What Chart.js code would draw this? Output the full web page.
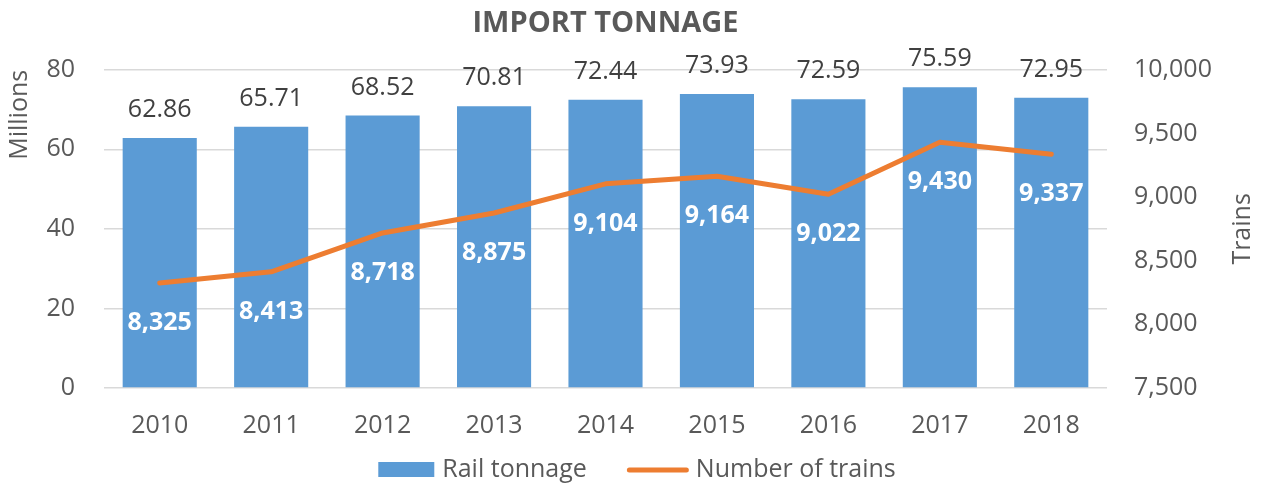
<!DOCTYPE html>
<html>
<head>
<meta charset="utf-8">
<script src="https://cdn.jsdelivr.net/npm/chart.js@4.4.1/dist/chart.umd.min.js"></script>
<style>
  html, body { margin: 0; padding: 0; background: #ffffff; }
  #wrap { width: 1266px; height: 486px; position: relative; }
</style>
</head>
<body>
<div id="wrap"><canvas id="c" width="1266" height="486"></canvas></div>
<script>
const years = ['2010', '2011', '2012', '2013', '2014', '2015', '2016', '2017', '2018'];
const railTonnage = [62.86, 65.71, 68.52, 70.81, 72.44, 73.93, 72.59, 75.59, 72.95];
const numberOfTrains = [8325, 8413, 8718, 8875, 9104, 9164, 9022, 9430, 9337];
const leftTicks = [0, 20, 40, 60, 80];
const rightTicks = [7500, 8000, 8500, 9000, 9500, 10000];

const FONT = "'Open Sans', 'DejaVu Sans', sans-serif";
const GREY = '#595959';
const BLUE = '#5B9BD5';
const ORANGE = '#ED7D31';

const labelPlugin = {
  id: 'valueLabels',
  afterDatasetsDraw(chart) {
    const ctx = chart.ctx;
    ctx.save();
    ctx.textAlign = 'center';
    ctx.textBaseline = 'middle';
    chart.data.datasets.forEach((ds, di) => {
      const meta = chart.getDatasetMeta(di);
      meta.data.forEach((el, i) => {
        const v = ds.data[i];
        if (ds.type === 'bar') {
          ctx.font = '25px ' + FONT;
          ctx.fillStyle = '#404040';
          ctx.fillText(v.toFixed(2), el.x, el.y - 28);
        } else {
          ctx.font = 'bold 25px ' + FONT;
          ctx.fillStyle = '#ffffff';
          ctx.fillText(v.toLocaleString('en-US'), el.x, el.y + 40);
        }
      });
    });
    ctx.restore();
  },
  afterDraw(chart) {
    const ctx = chart.ctx;
    const a = chart.chartArea;
    ctx.save();
    // right axis title, reading bottom-to-top
    ctx.translate(1243, (a.top + a.bottom) / 2);
    ctx.rotate(-Math.PI / 2);
    ctx.textAlign = 'center';
    ctx.textBaseline = 'middle';
    ctx.font = '25px ' + FONT;
    ctx.fillStyle = GREY;
    ctx.fillText('Trains', 0, 0);
    ctx.restore();

    // legend
    ctx.save();
    ctx.font = '25px ' + FONT;
    ctx.textBaseline = 'middle';
    ctx.textAlign = 'left';
    const ds = chart.data.datasets;
    const boxW = 56, boxH = 15, lineW = 62, gapText = 8, gapItem = 40;
    const t1 = ds[0].label, t2 = ds[1].label;
    const w1 = ctx.measureText(t1).width, w2 = ctx.measureText(t2).width;
    const total = boxW + gapText + w1 + gapItem + lineW + gapText - 1 + w2;
    const cy = 470;
    let x = chart.width / 2 + 4 - total / 2;
    ctx.fillStyle = BLUE;
    ctx.fillRect(x, cy - boxH / 2 - 0.5, boxW, boxH);
    x += boxW + gapText;
    ctx.fillStyle = GREY;
    ctx.fillText(t1, x, cy);
    x += w1 + gapItem;
    ctx.strokeStyle = ORANGE;
    ctx.lineWidth = 5;
    ctx.lineCap = 'round';
    ctx.beginPath();
    ctx.moveTo(x + 2.5, cy);
    ctx.lineTo(x + lineW - 2.5, cy);
    ctx.stroke();
    x += lineW + gapText - 1;
    ctx.fillText(t2, x, cy);
    ctx.restore();
  }
};

new Chart(document.getElementById('c'), {
  data: {
    labels: years,
    datasets: [
      {
        type: 'bar',
        label: 'Rail tonnage',
        data: railTonnage,
        backgroundColor: BLUE,
        borderWidth: 0,
        barPercentage: 0.665,
        categoryPercentage: 1,
        yAxisID: 'y',
        order: 1
      },
      {
        type: 'line',
        label: 'Number of trains',
        data: numberOfTrains,
        borderColor: ORANGE,
        backgroundColor: ORANGE,
        borderWidth: 5,
        borderCapStyle: 'round',
        borderJoinStyle: 'round',
        tension: 0,
        pointRadius: 0,
        pointHoverRadius: 0,
        fill: false,
        yAxisID: 'y1',
        order: 0
      }
    ]
  },
  options: {
    responsive: false,
    animation: false,
    devicePixelRatio: 1,
    layout: { padding: { left: 0, right: 0, top: 0, bottom: 37 } },
    plugins: {
      tooltip: { enabled: false },
      legend: { display: false },
      title: {
        display: true,
        text: 'IMPORT TONNAGE',
        fullSize: false,
        color: GREY,
        font: { family: FONT, size: 29, weight: 'bold', lineHeight: 1.2 },
        padding: { top: 6, bottom: 29 }
      }
    },
    scales: {
      x: {
        grid: { display: false, drawTicks: false },
        border: { display: false },
        ticks: { color: GREY, font: { family: FONT, size: 25 }, padding: 23 },
        afterFit(s) { s.height = 61; }
      },
      y: {
        position: 'left',
        min: 0, max: 80,
        afterBuildTicks(s) { s.ticks = leftTicks.map(v => ({ value: v })); },
        grid: { color: '#d9d9d9', lineWidth: 1.5, drawTicks: false },
        border: { display: false },
        ticks: { color: GREY, font: { family: FONT, size: 25 }, padding: 29 },
        title: {
          display: true, text: 'Millions', color: GREY, align: 'end',
          font: { family: FONT, size: 25, lineHeight: 1.2 },
          padding: { top: 5, bottom: 0 }
        },
        afterFit(s) { s.width = 104; }
      },
      y1: {
        position: 'right',
        min: 7500, max: 10000,
        afterBuildTicks(s) { s.ticks = rightTicks.map(v => ({ value: v })); },
        grid: { display: false, drawTicks: false },
        border: { display: false },
        ticks: {
          color: GREY, font: { family: FONT, size: 25 }, padding: 27,
          callback: v => Number(v).toLocaleString('en-US')
        },
        afterFit(s) { s.width = 159; }
      }
    }
  },
  plugins: [labelPlugin]
});
</script>
</body>
</html>
